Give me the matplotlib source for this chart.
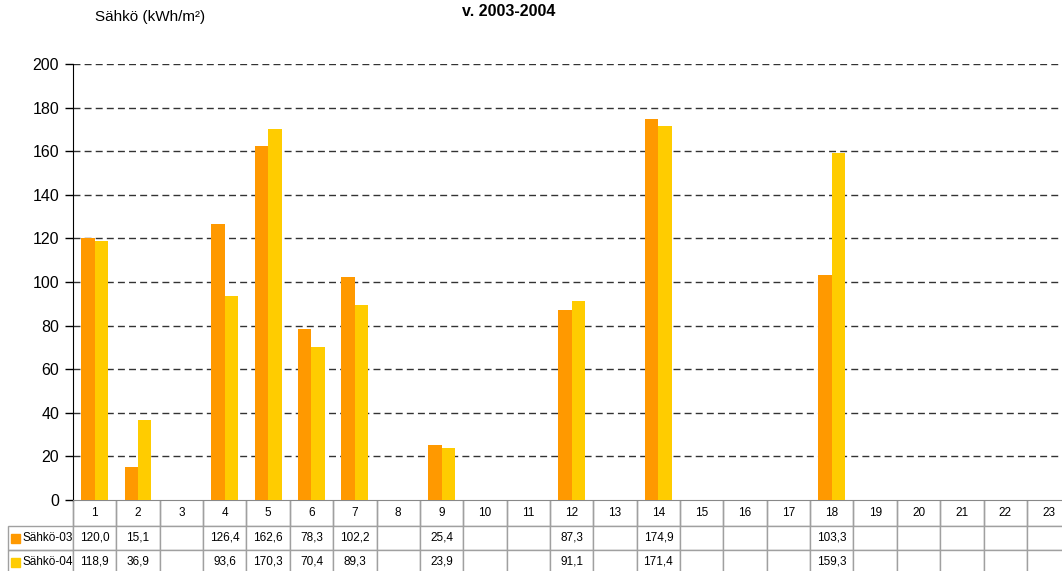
import matplotlib.pyplot as plt
import numpy as np
from matplotlib.table import Table
from matplotlib.patches import Rectangle

plt.rcParams['font.family'] = ['Liberation Sans', 'DejaVu Sans']

# data
categories = [str(i) for i in range(1, 24)]
sahko03 = [120.0, 15.1, None, 126.4, 162.6, 78.3, 102.2, None, 25.4, None, None,
           87.3, None, 174.9, None, None, None, 103.3, None, None, None, None, None]
sahko04 = [118.9, 36.9, None, 93.6, 170.3, 70.4, 89.3, None, 23.9, None, None,
           91.1, None, 171.4, None, None, None, 159.3, None, None, None, None, None]
series_names = ['Sähkö-03', 'Sähkö-04']
colors = ['#FF9900', '#FFCC00']

W, H = 1062, 571
fig = plt.figure(figsize=(W / 100, H / 100), dpi=100)
cat_w = 43.36
ax_left, ax_right = 73, 73 + 23 * cat_w
ax_top, ax_bot = 64, 500
axw, axh = ax_right - ax_left, ax_bot - ax_top
ax = fig.add_axes([ax_left / W, (H - ax_bot) / H, axw / W, axh / H])

x = np.arange(len(categories))
bw = 0.31
v03 = np.array([np.nan if v is None else v for v in sahko03])
v04 = np.array([np.nan if v is None else v for v in sahko04])
ax.bar(x - bw / 2, v03, bw, color=colors[0], zorder=3)
ax.bar(x + bw / 2, v04, bw, color=colors[1], zorder=3)

ax.set_xlim(-0.5, len(categories) - 0.5)
ax.set_ylim(0, 200)
ax.set_yticks(range(0, 201, 20))
ax.tick_params(axis='y', direction='out', length=6, width=1, labelsize=11.5, pad=4)
ax.set_xticks([])
for y in range(20, 201, 20):
    ax.axhline(y, color='#333333', lw=1, dashes=(5, 3), zorder=1)
ax.spines['top'].set_visible(False)
ax.spines['right'].set_visible(False)
ax.spines['left'].set_color('black')
ax.spines['bottom'].set_color('#888888')

# data table below the axes (bbox covers the data columns only)
heights = [26 / axh, 24 / axh, 24 / axh]
lab_w = 65 / axw
col_w = 1 / len(categories)
tab = Table(ax, bbox=[0, -sum(heights), 1, sum(heights)])
edge = '#A0A0A0'
for j, c in enumerate(categories):
    cell = tab.add_cell(0, j, width=col_w, height=heights[0], text=c, loc='center', edgecolor=edge)
    cell.visible_edges = 'LRB'
cell = tab.add_cell(0, -1, width=lab_w, height=heights[0], text='', edgecolor=edge)
cell.visible_edges = 'R'
for i, vals in enumerate([sahko03, sahko04]):
    for j, v in enumerate(vals):
        txt = '' if v is None else f'{v:.1f}'.replace('.', ',')
        tab.add_cell(i + 1, j, width=col_w, height=heights[i + 1], text=txt, loc='center', edgecolor=edge)
tab.auto_set_font_size(False)
tab.set_fontsize(8.5)
for cell in tab.get_celld().values():
    cell.set_linewidth(1)
    cell.PAD = 0.02
for i in range(2):
    cell = tab.add_cell(i + 1, -1, width=lab_w, height=heights[i + 1], text=series_names[i],
                        loc='left', edgecolor=edge, facecolor='none')
    cell.set_linewidth(1)
    cell.PAD = 0.23
    cell.get_text().set_fontsize(8.5)
    cell.get_text().set_clip_on(False)
ax.add_table(tab)

# legend keys in the row labels
for i in range(2):
    yc = -(heights[0] + heights[1] * (i + 0.5))
    ax.add_patch(Rectangle((-lab_w + 3 / axw, yc - 4.5 / axh), 9 / axw, 9 / axh,
                           transform=ax.transAxes, color=colors[i], clip_on=False, zorder=5))

fig.text(95 / W, 1 - 17 / H, 'Sähkö (kWh/m²)', fontsize=11, va='center', ha='left')
fig.text(509 / W, 1 - 12 / H, 'v. 2003-2004', fontsize=11.5, fontweight='bold', va='center', ha='center')

fig.savefig('out.png', dpi=100)
